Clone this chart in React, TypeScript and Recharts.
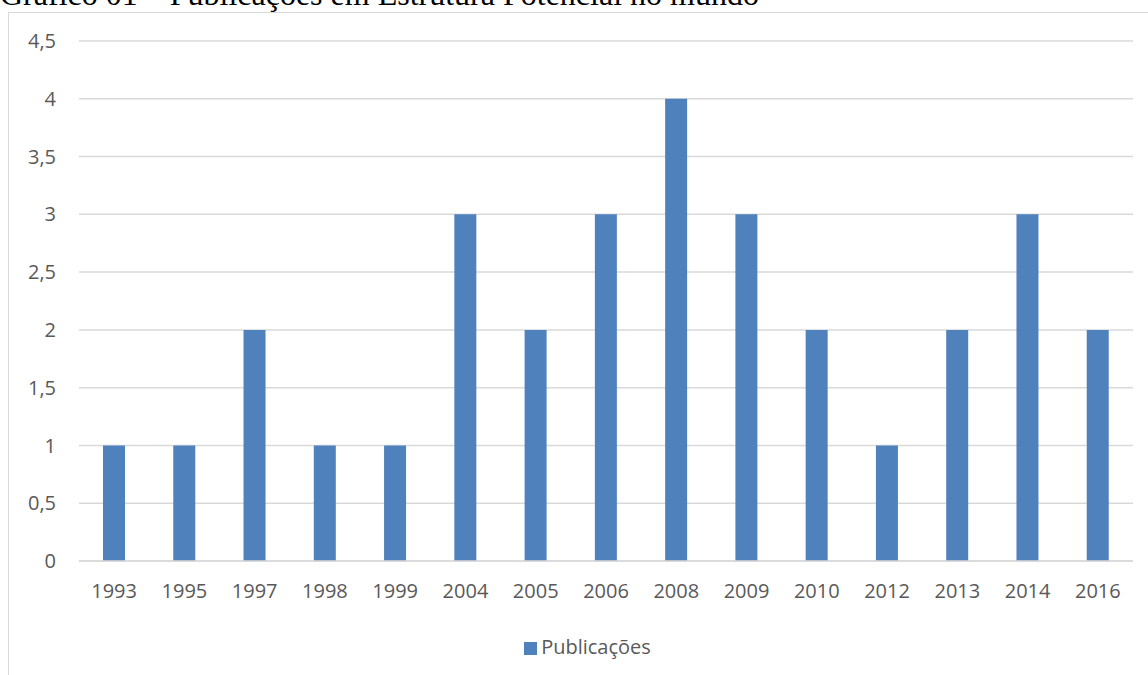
import React from "react";
import { BarChart, Bar, XAxis, YAxis, CartesianGrid, Legend } from "recharts";

const years = ["1993", "1995", "1997", "1998", "1999", "2004", "2005", "2006", "2008", "2009", "2010", "2012", "2013", "2014", "2016"];
const publicacoes = [1, 1, 2, 1, 1, 3, 2, 3, 4, 3, 2, 1, 2, 3, 2];
const yTicks = [0, 0.5, 1, 1.5, 2, 2.5, 3, 3.5, 4, 4.5];

const data = years.map((year, i) => ({ year, value: publicacoes[i] }));

const TEXT = "#595959";
const FONT = "'Open Sans', sans-serif";

export default function App() {
  return (
    <div style={{ position: "absolute", left: 0, top: 0, width: 1148, height: 675, overflow: "hidden", background: "#fff" }}>
      <div
        style={{
          position: "absolute",
          left: 0,
          top: -22,
          fontFamily: "'Liberation Serif', serif",
          fontSize: 32,
          lineHeight: "32px",
          whiteSpace: "nowrap",
          color: "#000",
        }}
      >
        Gráfico 01 – Publicações em Estrutura Potencial no mundo
      </div>
      <div
        style={{
          position: "absolute",
          left: 8,
          top: 12,
          width: 1200,
          height: 700,
          border: "1.5px solid #d9d9d9",
          boxSizing: "border-box",
        }}
      />
      <div style={{ position: "absolute", left: 0, top: 0 }}>
        <BarChart width={1148} height={675} data={data} margin={{ top: 41, right: 15, left: 0, bottom: 37 }}>
          <CartesianGrid vertical={false} stroke="#d9d9d9" strokeWidth={1.5} />
          <XAxis
            dataKey="year"
            axisLine={{ stroke: "#d9d9d9", strokeWidth: 1.5 }}
            tickLine={false}
            height={50}
            tickMargin={17}
            tick={{ fill: TEXT, fontSize: 20, fontFamily: FONT }}
          />
          <YAxis
            width={79}
            domain={[0, 4.5]}
            ticks={yTicks}
            axisLine={false}
            tickLine={false}
            tickSize={0}
            tickMargin={23}
            tickFormatter={(v: number) => String(v).replace(".", ",")}
            tick={{ fill: TEXT, fontSize: 20, fontFamily: FONT }}
          />
          <Legend
            verticalAlign="bottom"
            align="center"
            iconType="square"
            iconSize={13}
            wrapperStyle={{ fontFamily: FONT, fontSize: 20, bottom: 15, left: 26 }}
            formatter={(v: string) => <span style={{ color: TEXT }}>{v}</span>}
          />
          <Bar dataKey="value" name="Publicações" fill="#4f81bd" barSize={22} isAnimationActive={false} />
        </BarChart>
      </div>
    </div>
  );
}
